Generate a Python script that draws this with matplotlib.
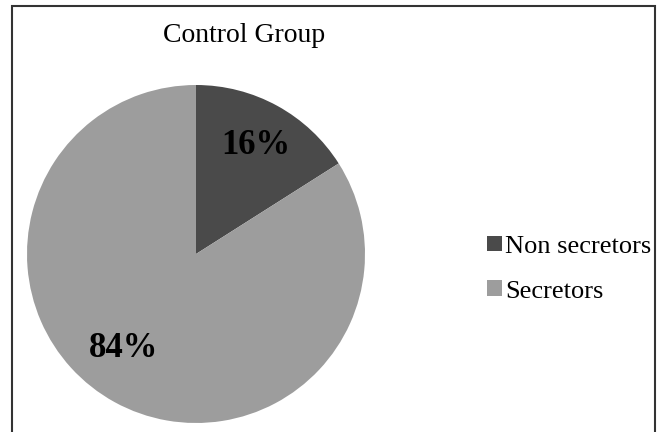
import matplotlib.pyplot as plt
from matplotlib.patches import Rectangle

groups = ['Non secretors', 'Secretors']
shares = [16, 84]
colors = ['#4a4a4a', '#9d9d9d']

W, H = 661, 432
fig = plt.figure(figsize=(W / 100, H / 100), dpi=100)
plt.rcParams['font.family'] = ['Liberation Serif', 'DejaVu Serif']

# pie centred at (196, 254) px, radius ~169 px
cx, cy, r = 196, 254, 169
ax = fig.add_axes([(cx - r) / W, (H - cy - r) / H, 2 * r / W, 2 * r / H])
wedges, texts, autotexts = ax.pie(shares, colors=colors, startangle=90, counterclock=False,
                                  autopct='%d%%', pctdistance=0.73,
                                  textprops={'fontsize': 25, 'fontweight': 'bold', 'color': 'black'})
autotexts[1].set_position((-0.43, -0.56))
ax.set_xlim(-1, 1)
ax.set_ylim(-1, 1)
ax.set_aspect('equal')

fig.text(244 / W, 1 - 36 / H, 'Control Group', ha='center', va='center', fontsize=20)

fig.legend(wedges, groups, loc='center left', bbox_to_anchor=(487 / W, 1 - 269 / H),
           frameon=False, fontsize=19, handlelength=0.55, handleheight=0.55,
           handletextpad=0.15, labelspacing=0.85, borderpad=0, borderaxespad=0)

fig.patches.append(Rectangle((12 / W, -0.1), (655 - 12) / W, 1.1 - 6 / H, transform=fig.transFigure,
                             fill=False, edgecolor='#333333', linewidth=1.5))

fig.savefig('out.png', dpi=100)
